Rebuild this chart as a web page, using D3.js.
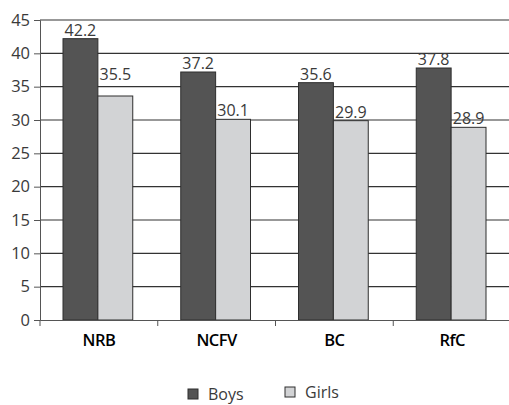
<!DOCTYPE html>
<html>
<head>
  <meta charset="utf-8">
  <title>Boys vs Girls</title>
  <script src="https://cdn.jsdelivr.net/npm/d3@7"></script>
  <style>
    body { margin: 0; background: #fff; }
    text { font-family: "Open Sans", sans-serif; }
  </style>
</head>
<body>
  <div id="chart"></div>
  <script>
    // data
    var categories = ["NRB", "NCFV", "BC", "RfC"];
    var seriesNames = ["Boys", "Girls"];
    var boysValues = [42.2, 37.2, 35.6, 37.8];
    var girlsValues = [33.6, 30.1, 29.9, 28.9];
    // printed labels (NRB girls label does not match its bar in the original)
    var boysLabels = ["42.2", "37.2", "35.6", "37.8"];
    var girlsLabels = ["35.5", "30.1", "29.9", "28.9"];
    var yTicks = [0, 5, 10, 15, 20, 25, 30, 35, 40, 45];
    var colors = ["#545454", "#d2d3d5"];

    var width = 509, height = 405;
    var svg = d3.select("#chart").append("svg")
      .attr("width", width)
      .attr("height", height);

    var x0 = d3.scaleBand().domain(categories).range([40, 511]).padding(0);
    var x1 = d3.scaleBand().domain(seriesNames)
      .range([23, x0.bandwidth() - 25]).padding(0);
    var y = d3.scaleLinear().domain([0, 45]).range([320, 20]);

    // gridlines
    svg.append("g")
      .selectAll("line")
      .data(yTicks.filter(function (d) { return d > 0; }))
      .enter().append("line")
      .attr("x1", 40).attr("x2", width)
      .attr("y1", function (d) { return y(d); })
      .attr("y2", function (d) { return y(d); })
      .attr("stroke", "#333")
      .attr("stroke-width", 1.2);

    // y axis
    var yAxis = svg.append("g")
      .attr("transform", "translate(40,0)")
      .call(d3.axisLeft(y).tickValues(yTicks).tickSize(6).tickPadding(4));
    yAxis.select(".domain").attr("stroke", "#555");
    yAxis.selectAll(".tick line").attr("stroke", "#555");
    yAxis.selectAll(".tick text")
      .attr("fill", "#3a3a3a")
      .style("font-size", "16.5px");

    // bars
    var rows = categories.map(function (c, i) {
      return [
        { cat: c, s: "Boys", v: boysValues[i], label: boysLabels[i], k: 0 },
        { cat: c, s: "Girls", v: girlsValues[i], label: girlsLabels[i], k: 1 }
      ];
    });

    var groups = svg.append("g").selectAll("g")
      .data(rows)
      .enter().append("g")
      .attr("transform", function (d, i) { return "translate(" + x0(categories[i]) + ",0)"; });

    groups.selectAll("rect")
      .data(function (d) { return d; })
      .enter().append("rect")
      .attr("x", function (d) { return x1(d.s); })
      .attr("y", function (d) { return y(d.v); })
      .attr("width", x1.bandwidth())
      .attr("height", function (d) { return y(0) - y(d.v); })
      .attr("fill", function (d) { return colors[d.k]; })
      .attr("stroke", "#2e2e2e")
      .attr("stroke-width", 1);

    groups.selectAll("text")
      .data(function (d) { return d; })
      .enter().append("text")
      .attr("x", function (d) { return x1(d.s) + x1.bandwidth() / 2; })
      .attr("y", function (d) { return y(+d.label) - 3; })
      .attr("text-anchor", "middle")
      .attr("fill", "#3a3a3a")
      .style("font-size", "16px")
      .text(function (d) { return d.label; });

    // x axis
    var xAxis = svg.append("g")
      .attr("transform", "translate(0,320)")
      .call(d3.axisBottom(x0).tickSize(0).tickPadding(14));
    xAxis.select(".domain").attr("stroke", "#555");
    xAxis.selectAll(".tick text")
      .attr("fill", "#000")
      .style("font-size", "16.5px")
      .style("font-weight", "600")
      .style("letter-spacing", "-0.5px");
    xAxis.selectAll("line.sep")
      .data(categories)
      .enter().append("line")
      .attr("class", "sep")
      .attr("x1", function (d) { return x0(d); })
      .attr("x2", function (d) { return x0(d); })
      .attr("y1", 0).attr("y2", 6)
      .attr("stroke", "#555");

    // legend
    var legend = svg.append("g").selectAll("g")
      .data(seriesNames)
      .enter().append("g")
      .attr("transform", function (d, i) { return "translate(" + (188 + i * 97) + "," + (389 - i * 2) + ")"; });
    legend.append("rect")
      .attr("width", 10).attr("height", 10)
      .attr("fill", function (d, i) { return colors[i]; })
      .attr("stroke", "#2e2e2e");
    legend.append("text")
      .attr("x", 20).attr("y", 11)
      .attr("fill", "#3a3a3a")
      .style("font-size", "16px")
      .text(function (d) { return d; });
  </script>
</body>
</html>
